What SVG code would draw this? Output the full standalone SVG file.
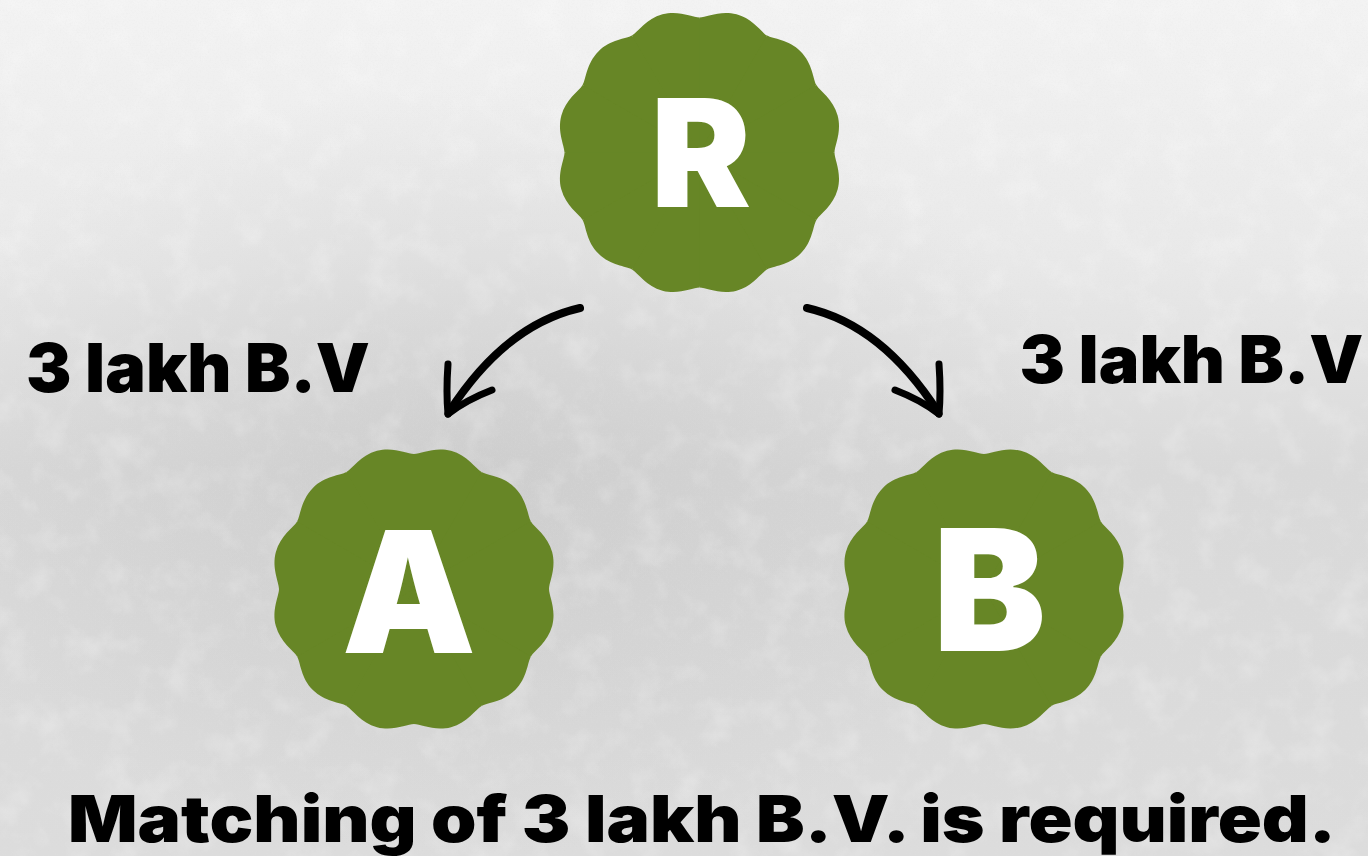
<svg xmlns="http://www.w3.org/2000/svg" width="1368" height="856" viewBox="0 0 1368 856">
  <defs>
    <style>
      .badge-fill { fill: #678626; }
      .letter { font-family: Inter, "Noto Sans", "Liberation Sans", sans-serif; font-weight: 900; fill: #ffffff; text-anchor: middle; }
      .label { font-family: Inter, "Noto Sans", "Liberation Sans", sans-serif; font-weight: 900; fill: #000000; }
      .arrow { fill: none; stroke: #000000; stroke-linecap: round; stroke-linejoin: round; }
    </style>
    <linearGradient id="bgGrad" x1="0" y1="0" x2="0" y2="1">
      <stop offset="0" stop-color="#f3f3f3"/>
      <stop offset="0.3" stop-color="#e9e9e9"/>
      <stop offset="0.55" stop-color="#d9d9d9"/>
      <stop offset="1" stop-color="#dcdcdc"/>
    </linearGradient>
    <radialGradient id="darkSpot" cx="0.35" cy="0.55" r="0.45">
      <stop offset="0" stop-color="#c4c4c4" stop-opacity="0.55"/>
      <stop offset="1" stop-color="#c4c4c4" stop-opacity="0"/>
    </radialGradient>
    <filter id="grain" x="0" y="0" width="100%" height="100%">
      <feTurbulence type="fractalNoise" baseFrequency="0.03" numOctaves="4" seed="7" result="n"/>
      <feColorMatrix in="n" type="matrix" values="0 0 0 0 1  0 0 0 0 1  0 0 0 0 1  1.6 0 0 0 -0.75"/>
    </filter>
    <filter id="grain2" x="0" y="0" width="100%" height="100%">
      <feTurbulence type="fractalNoise" baseFrequency="0.6" numOctaves="2" seed="3" result="n"/>
      <feColorMatrix in="n" type="matrix" values="0 0 0 0 0.75  0 0 0 0 0.75  0 0 0 0 0.75  1.2 0 0 0 -0.55"/>
    </filter>
    <path id="wedge" d="M0,0 L135,0 C135,7 142.53,20.59 138.13,37.01 C133.73,53.43 120.41,61.44 116.91,67.5 Z"/>
    <g id="badge" class="badge-fill">
      <circle cx="0" cy="0" r="134"/>
      <use href="#wedge"/>
      <use href="#wedge" transform="rotate(30)"/>
      <use href="#wedge" transform="rotate(60)"/>
      <use href="#wedge" transform="rotate(90)"/>
      <use href="#wedge" transform="rotate(120)"/>
      <use href="#wedge" transform="rotate(150)"/>
      <use href="#wedge" transform="rotate(180)"/>
      <use href="#wedge" transform="rotate(210)"/>
      <use href="#wedge" transform="rotate(240)"/>
      <use href="#wedge" transform="rotate(270)"/>
      <use href="#wedge" transform="rotate(300)"/>
      <use href="#wedge" transform="rotate(330)"/>
    </g>
  </defs>

  <g id="background">
    <rect x="0" y="0" width="1368" height="856" fill="url(#bgGrad)"/>
    <rect x="0" y="0" width="1368" height="856" fill="url(#darkSpot)"/>
    <rect x="0" y="0" width="1368" height="856" filter="url(#grain)" opacity="0.35"/>
    <rect x="0" y="0" width="1368" height="856" filter="url(#grain2)" opacity="0.35"/>
  </g>

  <g id="connectors">
    <g id="edge-R-A">
      <path class="arrow" stroke-width="8" d="M580,308 Q505,325 449,412"/>
      <path class="arrow" stroke-width="7" d="M448,364 Q446,392 448,414"/>
      <path class="arrow" stroke-width="7" d="M492,390 Q466,400 448,414"/>
    </g>
    <g id="edge-R-B">
      <path class="arrow" stroke-width="8" d="M807,308 Q882,325 938,412"/>
      <path class="arrow" stroke-width="7" d="M939,364 Q941,392 939,414"/>
      <path class="arrow" stroke-width="7" d="M895,390 Q921,400 939,414"/>
    </g>
  </g>

  <g id="node-R">
    <use href="#badge" transform="translate(699.5,152.5)"/>
    <text class="letter" x="700.8" y="206.7" font-size="150">R</text>
  </g>
  <g id="node-A">
    <use href="#badge" transform="translate(414,589)"/>
    <text class="letter" x="409" y="652.7" font-size="169">A</text>
  </g>
  <g id="node-B">
    <use href="#badge" transform="translate(984,589)"/>
    <text class="letter" x="989.5" y="650.7" font-size="169">B</text>
  </g>

  <g id="labels">
    <text class="label" x="26" y="391.7" font-size="68" textLength="344" lengthAdjust="spacingAndGlyphs">3 lakh B.V</text>
    <text class="label" x="1019.5" y="383.3" font-size="66" textLength="344" lengthAdjust="spacingAndGlyphs">3 lakh B.V</text>
    <text class="label" x="68" y="842" font-size="65" textLength="1268" lengthAdjust="spacingAndGlyphs">Matching of 3 lakh B.V. is required.</text>
  </g>
</svg>
